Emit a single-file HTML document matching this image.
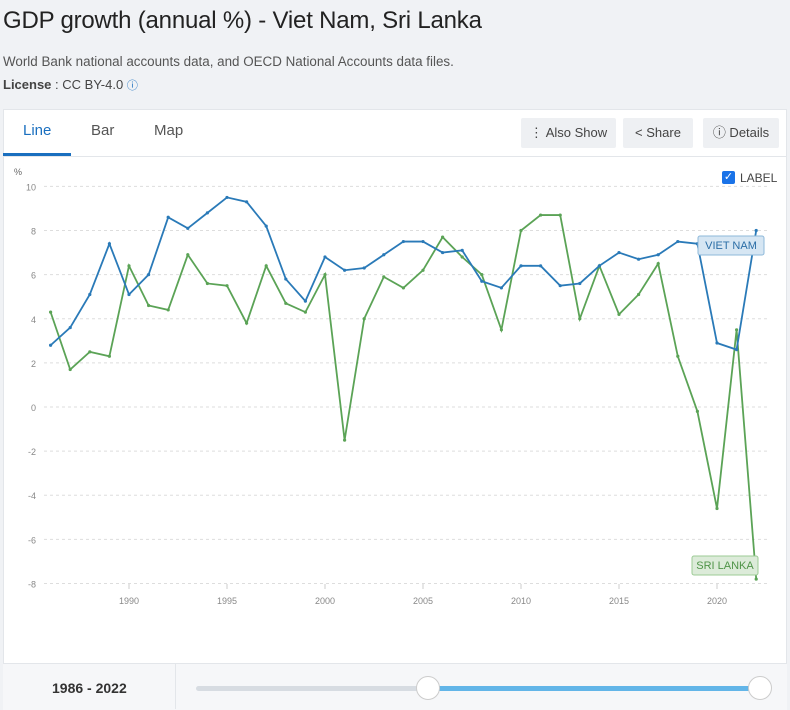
<!DOCTYPE html>
<html><head><meta charset="utf-8"><style>
body{margin:0;width:790px;height:709px;background:#f0f2f5;font-family:"Liberation Sans",sans-serif;position:relative;overflow:hidden}
.abs{position:absolute}
h1{position:absolute;left:3px;top:7px;margin:0;font-size:24px;font-weight:normal;color:#222;letter-spacing:-0.2px}
.btn{position:absolute;top:118px;height:30px;background:#eef0f3;border-radius:2px;font-size:13px;color:#444;line-height:30px;text-align:center}
</style></head><body>
<h1>GDP growth (annual %) - Viet Nam, Sri Lanka</h1>
<div class="abs" style="left:3px;top:54px;font-size:13.4px;color:#555">World Bank national accounts data, and OECD National Accounts data files.</div>
<div class="abs" style="left:3px;top:77px;font-size:13px;color:#444"><b>License</b> : CC BY-4.0 <span style="color:#1a6fbf;font-size:11px">ⓘ</span></div>
<div class="abs" style="left:3px;top:109px;width:784px;height:600px;background:#fff;border:1px solid #e3e6ea;box-sizing:border-box"></div>
<div class="abs" style="left:3px;top:156px;width:784px;height:1px;background:#e3e6ea"></div>
<div class="abs" style="left:23px;top:122px;font-size:15px;color:#1a6fbf">Line</div>
<div class="abs" style="left:3px;top:153px;width:68px;height:3px;background:#1a6fbf"></div>
<div class="abs" style="left:91px;top:122px;font-size:15px;color:#555">Bar</div>
<div class="abs" style="left:154px;top:122px;font-size:15px;color:#555">Map</div>
<div class="btn" style="left:521px;width:95px">⋮ Also Show</div>
<div class="btn" style="left:623px;width:70px">&lt; Share</div>
<div class="btn" style="left:703px;width:76px">ⓘ Details</div>
<svg class="abs" style="left:0;top:0" width="790" height="709" id="chart"></svg>
<div class="abs" style="left:3px;top:663px;width:784px;height:46px;background:#f6f7f9;border-top:1px solid #e3e6ea"></div>
<div class="abs" style="left:175px;top:663px;width:1px;height:46px;background:#e3e6ea"></div>
<div class="abs" style="left:52px;top:680px;font-size:14px;font-weight:bold;color:#333">1986 - 2022</div>
<div class="abs" style="left:196px;top:686px;width:232px;height:5px;background:#d7dce2;border-radius:3px"></div>
<div class="abs" style="left:428px;top:686px;width:332px;height:5px;background:#62b5e8"></div>
<div class="abs" style="left:416px;top:676px;width:22px;height:22px;border-radius:50%;background:#fff;border:1px solid #ccc"></div>
<div class="abs" style="left:748px;top:676px;width:22px;height:22px;border-radius:50%;background:#fff;border:1px solid #ccc"></div>
<div class="abs" style="left:722px;top:171px;width:13px;height:13px;background:#1a73e8;border-radius:2px;color:#fff;font-size:11px;line-height:13px;text-align:center">✓</div>
<div class="abs" style="left:740px;top:171px;font-size:12px;color:#444">LABEL</div>
<script>
const years=[];for(let y=1986;y<=2022;y++)years.push(y);
const vietNam=[2.8,3.6,5.1,7.4,5.1,6.0,8.6,8.1,8.8,9.5,9.3,8.2,5.8,4.8,6.8,6.2,6.3,6.9,7.5,7.5,7.0,7.1,5.7,5.4,6.4,6.4,5.5,5.6,6.4,7.0,6.7,6.9,7.5,7.4,2.9,2.6,8.0];
const sriLanka=[4.3,1.7,2.5,2.3,6.4,4.6,4.4,6.9,5.6,5.5,3.8,6.4,4.7,4.3,6.0,-1.5,4.0,5.9,5.4,6.2,7.7,6.8,6.0,3.5,8.0,8.7,8.7,4.0,6.4,4.2,5.1,6.5,2.3,-0.2,-4.6,3.5,-7.8];
const yTicks=[10,8,6,4,2,0,-2,-4,-6,-8];
const xTicks=[1990,1995,2000,2005,2010,2015,2020];
const svg=document.getElementById('chart');const NS='http://www.w3.org/2000/svg';
const X=y=>129+(y-1990)*19.6, Y=v=>407-v*22.06;
function mk(t,a,p){const e=document.createElementNS(NS,t);for(const k in a)e.setAttribute(k,a[k]);(p||svg).appendChild(e);return e;}
let t=mk('text',{x:14,y:175,'font-size':9,fill:'#666'});t.textContent='%';


yTicks.forEach(v=>{
 const l=mk('line',{x1:44,x2:770,y1:Y(v),y2:Y(v),stroke:'#ddd','stroke-dasharray':'3,3'});
 
 
 const tx=mk('text',{x:36,y:Y(v)+4,'font-size':9,fill:'#888','text-anchor':'end'});tx.textContent=v;
 
 
});
xTicks.forEach(v=>{
 mk('line',{x1:X(v),x2:X(v),y1:584,y2:589,stroke:'#ccc'});
 const tx=mk('text',{x:X(v),y:604,'font-size':9,fill:'#888','text-anchor':'middle'});tx.textContent=v;
 
 
});
function series(d,c,name){
 const p=mk('polyline',{points:d.map((v,i)=>X(years[i])+','+Y(v)).join(' '),fill:'none',stroke:c,'stroke-width':1.8});
 
 
 d.forEach((v,i)=>{const c2=mk('circle',{cx:X(years[i]),cy:Y(v),r:1.6,fill:c});
  
  });
}
series(sriLanka,'#5ba356','sri-lanka');
series(vietNam,'#2a7ab8','viet-nam');
function lab(x,y,w,txt,bg,bd,col,name){
 const g=mk('g',{});
 
 
 mk('rect',{x:x,y:y,width:w,height:19,rx:2,fill:bg,stroke:bd},g);
 const tx=mk('text',{x:x+w/2,y:y+13,'font-size':11,fill:col,'text-anchor':'middle'},g);tx.textContent=txt;
}
lab(698,236,66,'VIET NAM','#d6e6f3','#8db8da','#2a6da6','viet-nam-label');
lab(692,556,66,'SRI LANKA','#dcebd9','#9ccb95','#4f9448','sri-lanka-label');
</script>
</body></html>
